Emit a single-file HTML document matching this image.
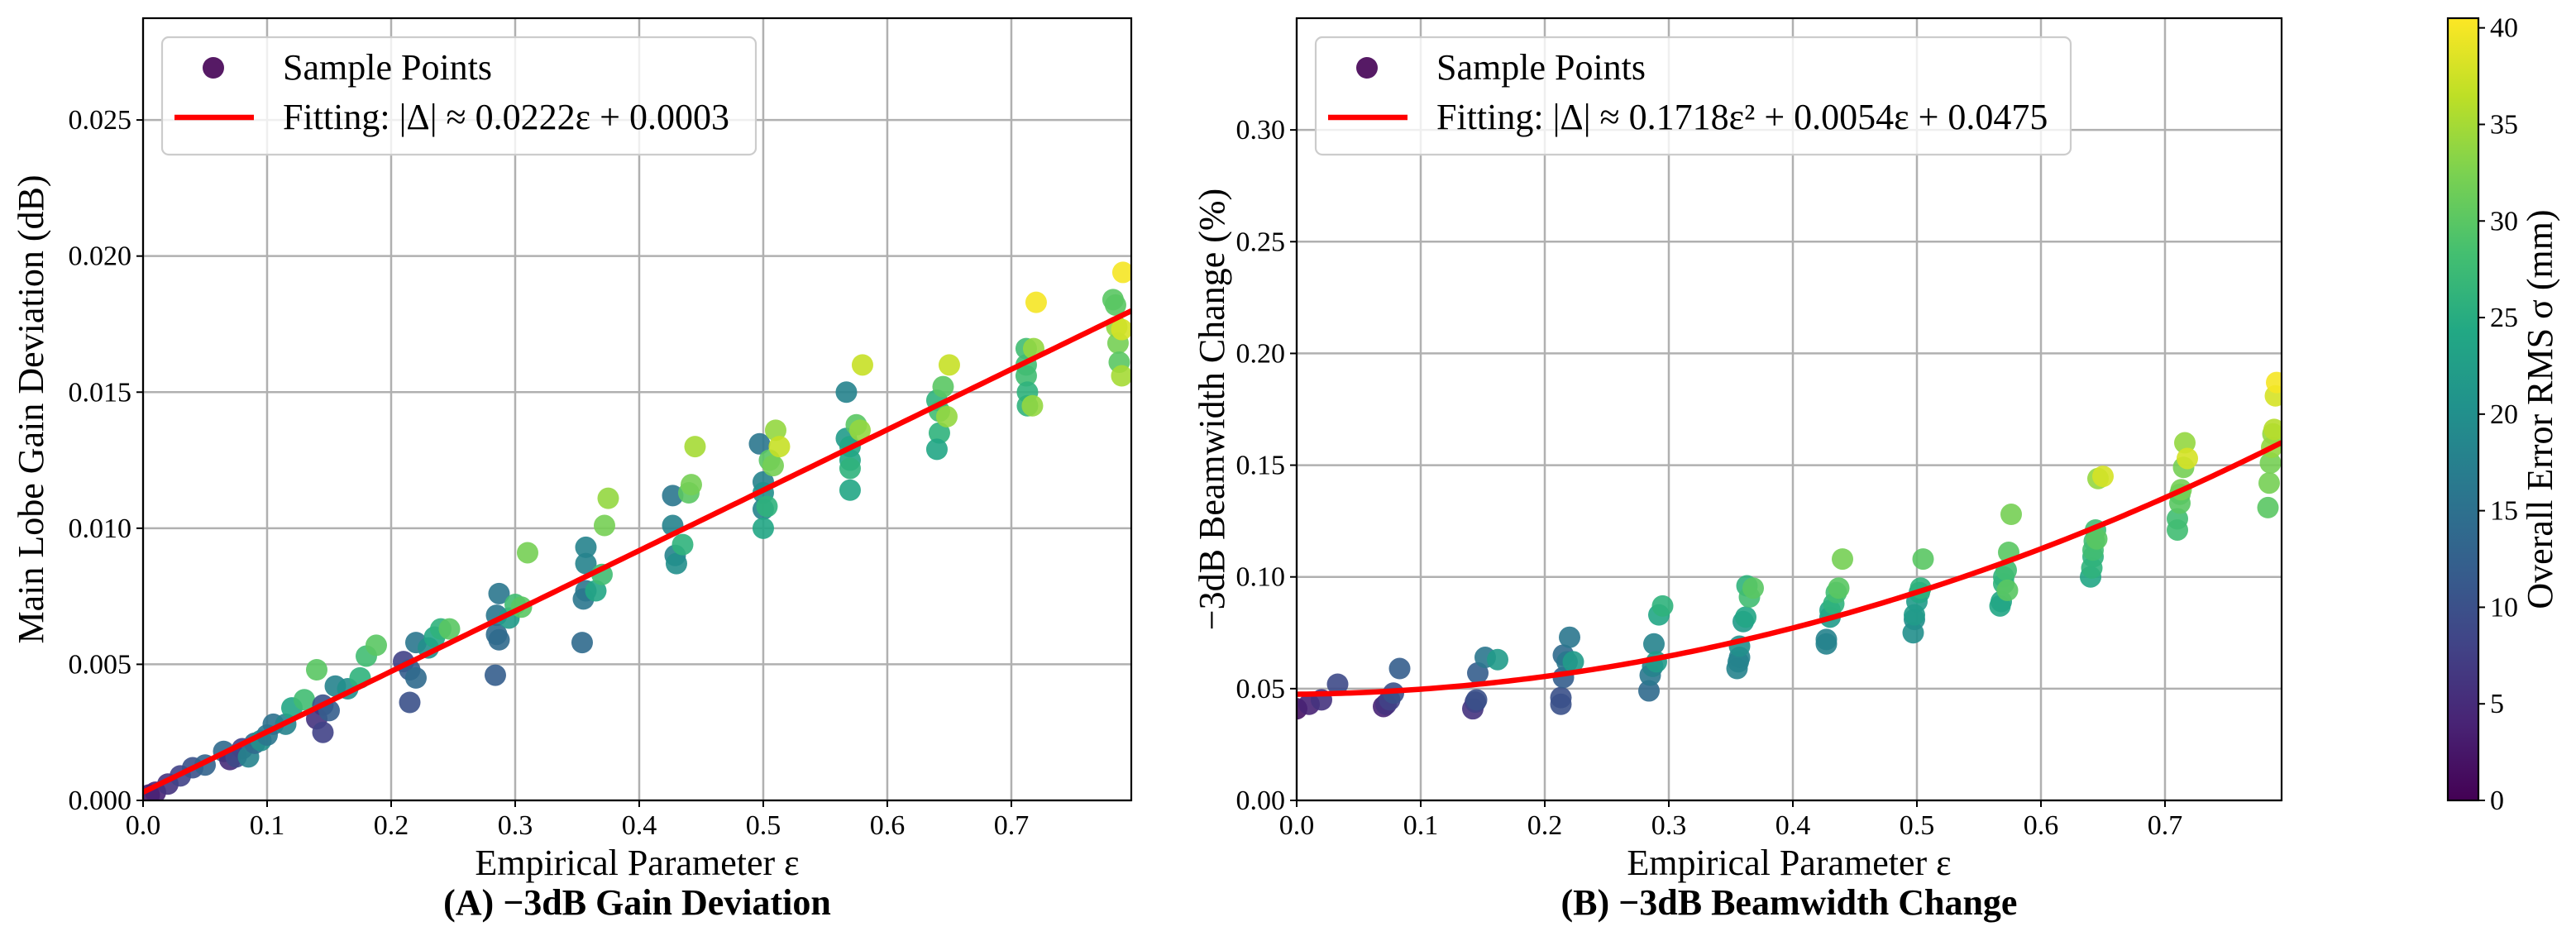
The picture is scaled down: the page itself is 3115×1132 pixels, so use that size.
<!DOCTYPE html>
<html><head><meta charset="utf-8"><style>
html,body{margin:0;padding:0;background:#fff;}
svg{display:block;font-family:"Liberation Serif","DejaVu Serif",serif;}
</style></head><body>
<svg id="fig" width="3115" height="1132" viewBox="0 0 3115 1132" xmlns="http://www.w3.org/2000/svg">
<defs>
<linearGradient id="vir" x1="0" y1="1" x2="0" y2="0">
<stop offset="0" stop-color="#440154"/><stop offset="0.1" stop-color="#482475"/><stop offset="0.2" stop-color="#414487"/><stop offset="0.3" stop-color="#355f8d"/><stop offset="0.4" stop-color="#2a788e"/><stop offset="0.5" stop-color="#21918c"/><stop offset="0.6" stop-color="#22a884"/><stop offset="0.7" stop-color="#44bf70"/><stop offset="0.8" stop-color="#7ad151"/><stop offset="0.9" stop-color="#bddf26"/><stop offset="1" stop-color="#fde725"/>
</linearGradient>
<clipPath id="clipA"><rect x="173" y="22" width="1195" height="946"/></clipPath>
<clipPath id="clipB"><rect x="1568" y="22" width="1191" height="946"/></clipPath>
</defs>
<g id="panelA"></g>
<g id="panelB"></g>
<g id="cbar"></g>
</svg>
<script>
// ---- data: panel A ----
const epsA = [0.005,0.01,0.02,0.03,0.04,0.05,0.065,0.07,0.075,0.08,0.085,0.09,0.095,0.1,0.105,0.115,0.12,0.13,0.14,0.145,0.14,0.145,0.15,0.155,0.165,0.175,0.18,0.188,
0.21,0.215,0.22,0.215,0.22,0.23,0.235,0.24,0.247,
0.285,0.287,0.285,0.287,0.284,0.295,0.3,0.305,0.31,
0.357,0.357,0.357,0.355,0.354,0.365,0.37,0.372,0.375,
0.427,0.427,0.429,0.43,0.435,0.44,0.442,0.445,
0.497,0.5,0.5,0.5,0.5,0.503,0.505,0.508,0.51,0.513,
0.567,0.567,0.57,0.57,0.57,0.57,0.575,0.578,0.58,
0.64,0.642,0.642,0.64,0.645,0.648,0.65,
0.712,0.712,0.712,0.713,0.713,0.717,0.718,0.72,
0.782,0.784,0.785,0.786,0.787,0.789,0.789,0.79];
const gainA = [0.0002,0.0003,0.0006,0.0009,0.0012,0.0013,0.0018,0.0015,0.0016,0.0019,0.0016,0.0021,0.0022,0.0024,0.0028,0.0028,0.0034,0.0037,0.0048,0.0035,0.003,0.0025,0.0033,0.0042,0.0041,0.0045,0.0053,0.0057,
0.0051,0.0048,0.0045,0.0036,0.0058,0.0056,0.006,0.0063,0.0063,
0.0068,0.0076,0.0061,0.0059,0.0046,0.0067,0.0072,0.0071,0.0091,
0.0093,0.0087,0.0077,0.0074,0.0058,0.0077,0.0083,0.0101,0.0111,
0.0112,0.0101,0.009,0.0087,0.0094,0.0113,0.0116,0.013,
0.0131,0.0117,0.0113,0.0107,0.01,0.0108,0.0125,0.0123,0.0136,0.013,
0.015,0.0133,0.013,0.0125,0.0122,0.0114,0.0138,0.0136,0.016,
0.0147,0.0143,0.0135,0.0129,0.0152,0.0141,0.016,
0.0166,0.016,0.0156,0.015,0.0145,0.0145,0.0166,0.0183,
0.0184,0.0182,0.0174,0.0168,0.0161,0.0156,0.0173,0.0194];
const sigmaA = [3,4,6,8,10,13,14,5,9,8,18,14,20,16,15,18,24,28,30,10,6,8,12,18,20,26,28,30,
8,12,14,10,16,20,24,26,30,
16,16,14,14,12,22,28,30,32,
18,18,16,16,14,24,28,32,34,
16,18,18,20,26,30,32,35,
16,18,20,18,24,26,30,32,34,37,
18,22,24,24,26,24,30,34,37,
26,28,26,24,30,34,37,
28,28,28,26,26,34,34,40,
30,30,34,32,30,35,38,40];
const fitA = [0.0222, 0.0003]; // slope, intercept
const xTicksA = [0.0,0.1,0.2,0.3,0.4,0.5,0.6,0.7];
const yTicksA = [0.000,0.005,0.010,0.015,0.020,0.025];
const yTickLabelsA = ["0.000","0.005","0.010","0.015","0.020","0.025"];

// ---- data: panel B ----
const epsB = [0.0,0.01,0.02,0.033,
0.07,0.072,0.075,0.078,0.083,
0.142,0.144,0.145,0.146,0.152,0.162,
0.213,0.213,0.215,0.215,0.218,0.22,0.223,
0.284,0.285,0.287,0.288,0.29,0.292,0.295,
0.355,0.356,0.357,0.357,0.36,0.362,0.363,0.365,0.368,
0.427,0.427,0.43,0.43,0.433,0.435,0.437,0.44,
0.497,0.498,0.498,0.5,0.502,0.503,0.505,
0.567,0.568,0.57,0.57,0.572,0.573,0.574,0.576,
0.64,0.641,0.642,0.642,0.643,0.644,0.645,0.646,0.65,
0.71,0.71,0.712,0.712,0.713,0.715,0.716,0.718,
0.783,0.784,0.785,0.786,0.787,0.788,0.789,0.79];
const beamB = [0.041,0.043,0.045,0.052,
0.042,0.043,0.045,0.048,0.059,
0.041,0.044,0.045,0.057,0.064,0.063,
0.043,0.046,0.055,0.065,0.062,0.073,0.062,
0.049,0.056,0.06,0.07,0.062,0.083,0.087,
0.059,0.062,0.064,0.069,0.08,0.082,0.096,0.091,0.095,
0.07,0.072,0.082,0.085,0.088,0.093,0.095,0.108,
0.075,0.081,0.083,0.089,0.093,0.095,0.108,
0.087,0.089,0.097,0.1,0.103,0.094,0.111,0.128,
0.1,0.104,0.109,0.112,0.116,0.121,0.117,0.144,0.145,
0.121,0.126,0.133,0.137,0.139,0.149,0.16,0.153,
0.131,0.142,0.151,0.158,0.164,0.166,0.181,0.187];
const sigmaB = [2,4,6,9,
4,6,8,10,12,
6,8,10,12,16,22,
10,10,12,14,16,16,22,
14,16,18,18,22,24,26,
18,18,18,20,22,24,26,28,30,
18,18,22,24,26,28,30,32,
20,20,22,22,24,26,30,
24,24,26,26,28,30,30,32,
24,26,26,28,28,28,30,34,38,
28,28,30,30,32,32,34,38,
30,32,32,34,34,36,38,40];
const fitB = [0.1718, 0.0054, 0.0475]; // a, b, c
const xTicksB = [0.0,0.1,0.2,0.3,0.4,0.5,0.6,0.7];
const yTicksB = [0.00,0.05,0.10,0.15,0.20,0.25,0.30];
const yTickLabelsB = ["0.00","0.05","0.10","0.15","0.20","0.25","0.30"];

const cbTicks = [0,5,10,15,20,25,30,35,40];
const cbMax = 40.5;

const NS = "http://www.w3.org/2000/svg";
const VIR = [[68,1,84],[72,36,117],[65,68,135],[53,95,141],[42,120,142],[33,145,140],[34,168,132],[68,191,112],[122,209,81],[189,223,38],[253,231,37]];
function viridis(t){t=Math.max(0,Math.min(1,t));const f=t*10,i=Math.min(9,Math.floor(f)),r=f-i;const a=VIR[i],b=VIR[i+1];
return "rgb("+[0,1,2].map(k=>Math.round(a[k]+(b[k]-a[k])*r)).join(",")+")";}
function mk(parent,tag,attrs,text){const e=document.createElementNS(NS,tag);for(const k in attrs)e.setAttribute(k,attrs[k]);if(text!==undefined)e.textContent=text;parent.appendChild(e);return e;}

function panel(g, cfg){
  const {x0,x1,y0,y1,xmax,ymax,clip}=cfg;
  const sx=v=>x0+(v/xmax)*(x1-x0);
  const sy=v=>y1-(v/ymax)*(y1-y0);
  cfg.xTicks.forEach(t=>{const l=mk(g,"line",{x1:sx(t),x2:sx(t),y1:y0,y2:y1,stroke:"#b0b0b0","stroke-width":2.5});
    
    });
  cfg.yTicks.forEach(t=>{const l=mk(g,"line",{x1:x0,x2:x1,y1:sy(t),y2:sy(t),stroke:"#b0b0b0","stroke-width":2.5});
    
    });
  const pg=mk(g,"g",{"clip-path":"url(#"+clip+")"});
  
  
  cfg.xs.forEach((x,i)=>{const c=mk(pg,"circle",{cx:sx(x),cy:sy(cfg.ys[i]),r:13,fill:viridis(cfg.cs[i]/cbMax),"fill-opacity":0.9});
    
    });
  let d="";for(let k=0;k<=200;k++){const e=xmax*k/200;d+=(k?"L":"M")+sx(e).toFixed(2)+","+sy(cfg.fit(e)).toFixed(2);}
  const fl=mk(pg,"path",{d:d,fill:"none",stroke:"#ff0000","stroke-width":6.5});
  
  
  const fr=mk(g,"rect",{x:x0,y:y0,width:x1-x0,height:y1-y0,fill:"none",stroke:"#000","stroke-width":2.2});
  
  
  cfg.xTicks.forEach(t=>{mk(g,"line",{x1:sx(t),x2:sx(t),y1:y1,y2:y1+8,stroke:"#000","stroke-width":2});
    const tx=mk(g,"text",{x:sx(t),y:1009,"font-size":34,"text-anchor":"middle"},t.toFixed(1));
    
    });
  cfg.yTicks.forEach((t,i)=>{mk(g,"line",{x1:x0-8,x2:x0,y1:sy(t),y2:sy(t),stroke:"#000","stroke-width":2});
    const tx=mk(g,"text",{x:x0-14,y:sy(t)+11,"font-size":34,"text-anchor":"end"},cfg.yLabels[i]);
    
    });
  const cx=(x0+x1)/2;
  const xl=mk(g,"text",{x:cx,y:1058,"font-size":44,"text-anchor":"middle"},"Empirical Parameter ε");
  
  
  const tt=mk(g,"text",{x:cx,y:1106,"font-size":44,"font-weight":"bold","text-anchor":"middle"},cfg.title);
  
  
  const yl=mk(g,"text",{x:0,y:0,"font-size":44,"text-anchor":"middle",transform:"translate("+(cfg.ylx)+",495) rotate(-90)"},cfg.ylabel);
  
  
  const lg=mk(g,"g",{});
  
  
  mk(lg,"rect",{x:x0+23,y:45,width:cfg.legW,height:142,rx:8,fill:"#fff","fill-opacity":0.8,stroke:"#cccccc","stroke-width":2.2});
  const m=mk(lg,"circle",{cx:x0+85,cy:82,r:13,fill:"#440154","fill-opacity":0.9});
  
  
  const ll=mk(lg,"line",{x1:x0+38,x2:x0+134,y1:142,y2:142,stroke:"#ff0000","stroke-width":6.5});
  
  
  const t1=mk(lg,"text",{x:x0+169,y:96,"font-size":44},"Sample Points");
  
  
  const t2=mk(lg,"text",{x:x0+169,y:156,"font-size":44},cfg.legText);
  
  
}

panel(document.getElementById("panelA"),{x0:173,x1:1368,y0:22,y1:968,xmax:0.7967,ymax:0.02874,clip:"clipA",
  xs:epsA,ys:gainA,cs:sigmaA,fit:e=>fitA[0]*e+fitA[1],xTicks:xTicksA,yTicks:yTicksA,yLabels:yTickLabelsA,
  title:"(A) −3dB Gain Deviation",ylabel:"Main Lobe Gain Deviation (dB)",ylx:52,legW:718,
  legText:"Fitting: |Δ| ≈ 0.0222ε + 0.0003"});
panel(document.getElementById("panelB"),{x0:1568,x1:2759,y0:22,y1:968,xmax:0.794,ymax:0.35,clip:"clipB",
  xs:epsB,ys:beamB,cs:sigmaB,fit:e=>fitB[0]*e*e+fitB[1]*e+fitB[2],xTicks:xTicksB,yTicks:yTicksB,yLabels:yTickLabelsB,
  title:"(B) −3dB Beamwidth Change",ylabel:"−3dB Beamwidth Change (%)",ylx:1480,legW:913,
  legText:"Fitting: |Δ| ≈ 0.1718ε² + 0.0054ε + 0.0475"});

(function(){
  const g=document.getElementById("cbar");
  const cx0=2960,cx1=2997,cy0=22,cy1=968;
  const sy=v=>cy1-(v/cbMax)*(cy1-cy0);
  mk(g,"rect",{x:cx0,y:cy0,width:cx1-cx0,height:cy1-cy0,fill:"url(#vir)",stroke:"#000","stroke-width":2.2});
  cbTicks.forEach(t=>{mk(g,"line",{x1:cx1,x2:cx1+8,y1:sy(t),y2:sy(t),stroke:"#000","stroke-width":2});
    const tx=mk(g,"text",{x:cx1+14,y:sy(t)+11,"font-size":34},String(t));
    
    });
  const lb=mk(g,"text",{x:0,y:0,"font-size":44,"text-anchor":"middle",transform:"translate(3086,495) rotate(-90)"},"Overall Error RMS σ (mm)");
  
  
})();
</script>
</body></html>
